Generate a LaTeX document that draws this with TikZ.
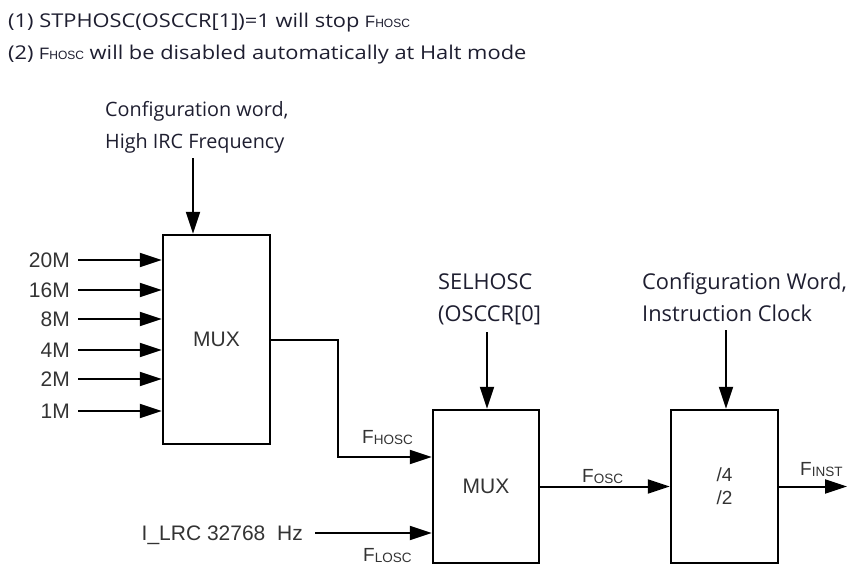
\documentclass[tikz,border=0pt]{standalone}
\usepackage{fontspec}
\setmainfont{Open Sans}
\newfontfamily\notefont{Open Sans}[FakeStretch=1.15]
\newfontfamily\arialf{Liberation Sans}
\usetikzlibrary{arrows.meta}
\definecolor{txt}{HTML}{1E1E30}
\definecolor{dtxt}{HTML}{333333}
\newcommand{\fsubx}[1]{{\fontsize{13.5}{14}\selectfont\raisebox{-1.5pt}{#1}}}
\newcommand{\fsubt}[1]{{\fontsize{12}{13}\selectfont #1}}
\begin{document}
\begin{tikzpicture}[x=1pt,y=-1pt,
  box/.style={draw, line width=2.5pt, inner sep=0pt, font=\arialf\fontsize{21}{23}\selectfont, text=dtxt, align=center},
  conn/.style={line width=2pt, -{Triangle[length=22pt,width=14pt]}},
  dlab/.style={font=\arialf\fontsize{21}{25}\selectfont, text=dtxt, inner sep=0pt},
  flab/.style={font=\arialf\fontsize{19}{21}\selectfont, text=dtxt, inner sep=0pt, anchor=base west},
  tlab/.style={font=\fontsize{19.8}{22}\selectfont, text=txt, inner sep=0pt, anchor=base west},
  rlab/.style={tlab, font=\fontsize{21.8}{24}\selectfont},
  nlab/.style={font=\notefont\fontsize{19}{22}\selectfont, text=txt, inner sep=0pt, anchor=base west},
]
\useasboundingbox (0,0) rectangle (848,565);

% notes
\node[nlab] (n1) at (8,27.5) {(1) STPHOSC(OSCCR[1])=1 will stop {\arialf\fontsize{16.5}{17}\selectfont F\fsubt{HOSC}}};
\node[nlab] (n2) at (8,59) {(2) {\arialf\fontsize{16.5}{17}\selectfont F\fsubt{HOSC}} will be disabled automatically at Halt mode};

% boxes
\node[box, minimum width=107pt, minimum height=209pt] (mux1) at (216.5,339.5) {MUX};
\node[box, minimum width=106pt, minimum height=153pt] (mux2) at (486,486.5) {MUX};
\node[box, minimum width=107pt, minimum height=153pt, font=\arialf\fontsize{19}{23}\selectfont] (div) at (724.5,486.5) {/4\\/2};

% mux1 inputs
\foreach \lab/\y/\n in {20M/260/a,16M/290/b,8M/319/c,4M/350/d,2M/379/e,1M/411/f} {
  \node[dlab, anchor=east] (in\n) at (70,\y) {\lab};
  \draw[conn, shorten <=8pt] (in\n.east) -- (in\n.east -| mux1.west);
}

% mux1 control
\node[tlab] (cw1) at (105,116) {Configuration word,};
\node[tlab] (cw2) at (105,148) {High IRC Frequency};
\coordinate (c1) at (193,158);
\draw[conn] (c1) -- (c1 |- mux1.north);

% mux1 -> mux2
\coordinate (b1) at (338,457);
\draw[conn] (mux1.east) -| (b1) -- (b1 -| mux2.west);
\node[flab] (fhosc) at (362,443) {F\fsubx{HOSC}};

% mux2 control
\node[rlab] (sel1) at (438,289) {SELHOSC};
\node[rlab] (sel2) at (438,321) {(OSCCR[0]};
\coordinate (c2) at (487,332);
\draw[conn] (c2) -- (c2 |- mux2.north);

% LRC input
\node[dlab, anchor=east, text depth=0pt] (ilrc) at (303,533) {I\_LRC 32768~~Hz};
\draw[conn, shorten <=12pt] (ilrc.east) -- (ilrc.east -| mux2.west);
\node[flab] (flosc) at (363,561) {F\fsubx{LOSC}};

% mux2 -> div
\draw[conn] (mux2.east) -- (mux2.east -| div.west);
\node[flab] (fosc) at (582,482) {F\fsubx{OSC}};

% div control
\node[rlab] (ic1) at (642,289) {Configuration Word,};
\node[rlab] (ic2) at (642,321) {Instruction Clock};
\coordinate (c3) at (726,330);
\draw[conn] (c3) -- (c3 |- div.north);

% output
\coordinate (out) at (847,488);
\draw[conn] (div.east) -- (div.east -| out);
\node[flab] (finst) at (800,475) {F\fsubx{INST}};
\end{tikzpicture}
\end{document}
